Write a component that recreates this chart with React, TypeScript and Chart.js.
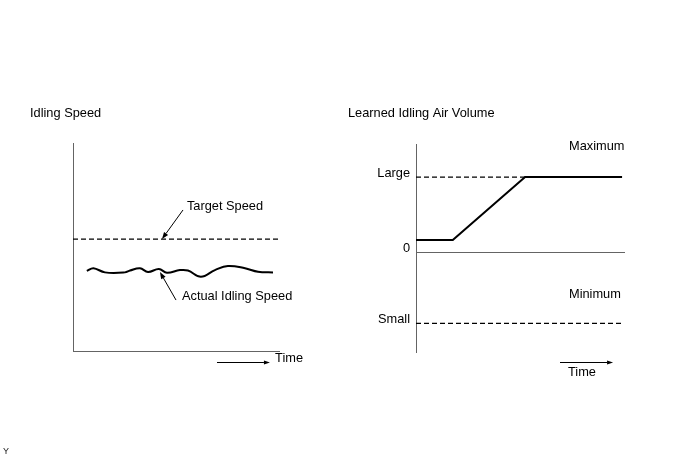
import React, { useEffect, useRef } from "react";
import { Chart, registerables } from "chart.js";

Chart.register(...registerables);

const FONT = "'Liberation Sans', Arial, sans-serif";
const FONT_SIZE = 12.8;
const AXIS_COLOR = "#646464";
const INK = "#000000";

// ---------- Left panel: Idling Speed ----------
const timeRange = [0, 100];
const speedRange = [0, 100];
const targetSpeedX = [0, 100];
const targetSpeedY = [53.8, 53.8];
const actualSpeedX = [6.7, 9.9, 15.5, 25.2, 27.7, 32.5, 36.4, 41.7, 45.6, 51.9, 55.8, 62.1, 68.9, 75.2, 83.5, 89.8, 97.1];
const actualSpeedY = [38.5, 39.8, 37.8, 37.8, 38.7, 39.8, 38.0, 39.4, 37.6, 38.9, 38.7, 35.7, 38.9, 40.9, 39.8, 38.1, 37.8];

// ---------- Right panel: Learned Idling Air Volume ----------
const volumeRange = [-133, 144];
const learnedX = [0, 17.6, 52.2, 98.6];
const learnedY = [16, 16, 100, 100];
const limitX = [0, 98.6];
const maximumY = [100, 100];
const minimumY = [-95, -95];
const volumeTickValues = [100, 0, -95];
const volumeTickLabels = ["Large", "0", "Small"];

const zip = (xs: number[], ys: number[]) => xs.map((x, i) => ({ x, y: ys[i] }));

type P = number | { e: "l" | "r" | "t" | "b"; d: number };

function resolve(chart: any, p: P, axis: "x" | "y") {
  if (typeof p === "number") return chart.scales[axis].getPixelForValue(p);
  const a = chart.chartArea;
  const base = p.e === "l" ? a.left : p.e === "r" ? a.right : p.e === "t" ? a.top : a.bottom;
  return base + p.d;
}

const notesPlugin = {
  id: "notes",
  afterDraw(chart: any) {
    const cfg = chart.options.plugins.notes;
    if (!cfg) return;
    const ctx = chart.ctx as CanvasRenderingContext2D;
    ctx.save();
    ctx.font = `${FONT_SIZE}px ${FONT}`;
    ctx.fillStyle = INK;
    ctx.textBaseline = "middle";
    ctx.textAlign = "left";
    for (const t of cfg.texts || []) {
      ctx.fillText(t.text, resolve(chart, t.x, "x"), resolve(chart, t.y, "y"));
    }
    ctx.strokeStyle = INK;
    ctx.lineWidth = 1;
    for (const a of cfg.arrows || []) {
      const x1 = resolve(chart, a.x1, "x");
      const y1 = resolve(chart, a.y1, "y");
      const x2 = resolve(chart, a.x2, "x");
      const y2 = resolve(chart, a.y2, "y");
      const ang = Math.atan2(y2 - y1, x2 - x1);
      const len = a.head || 7;
      const hw = a.hw || 2.5;
      const bx = x2 - Math.cos(ang) * len;
      const by = y2 - Math.sin(ang) * len;
      ctx.beginPath();
      ctx.moveTo(x1, y1);
      ctx.lineTo(bx, by);
      ctx.stroke();
      ctx.beginPath();
      ctx.moveTo(x2, y2);
      ctx.lineTo(bx + Math.sin(ang) * hw, by - Math.cos(ang) * hw);
      ctx.lineTo(bx - Math.sin(ang) * hw, by + Math.cos(ang) * hw);
      ctx.closePath();
      ctx.fill();
    }
    ctx.restore();
  },
};

const plainAxis = (range: number[], horizontal: boolean) => ({
  type: "linear" as const,
  min: range[0],
  max: range[1],
  grid: { display: false, drawTicks: false },
  ticks: { display: false },
  border: { display: true, color: AXIS_COLOR, width: 1 },
  afterFit: (s: any) => {
    if (horizontal) s.height = 0;
    else s.width = 0;
  },
});

function leftConfig(): any {
  return {
    type: "line",
    data: {
      datasets: [
        {
          data: zip(actualSpeedX, actualSpeedY),
          borderColor: INK,
          borderWidth: 2,
          pointRadius: 0,
          tension: 0.4,
          fill: false,
        },
        {
          data: zip(targetSpeedX, targetSpeedY),
          borderColor: INK,
          borderWidth: 1.3,
          borderDash: [5, 3],
          pointRadius: 0,
          fill: false,
        },
      ],
    },
    options: {
      responsive: false,
      animation: false,
      devicePixelRatio: 1,
      layout: { padding: { left: 73, top: 143, right: 65, bottom: 112 } },
      scales: {
        x: plainAxis(timeRange, true),
        y: plainAxis(speedRange, false),
      },
      plugins: {
        legend: { display: false },
        tooltip: { enabled: false },
        notes: {
          texts: [
            { text: "Idling Speed", x: { e: "l", d: -43 }, y: { e: "t", d: -30 } },
            { text: "Target Speed", x: 55.3, y: 69.7 },
            { text: "Actual Idling Speed", x: 52.9, y: 26.4 },
            { text: "Time", x: 98.1, y: { e: "b", d: 7 } },
          ],
          arrows: [
            { x1: 53.4, y1: 67.8, x2: 43.2, y2: 53.8 },
            { x1: 50.0, y1: 24.5, x2: 42.2, y2: 38.0 },
            { x1: 69.9, y1: { e: "b", d: 11.5 }, x2: 95.6, y2: { e: "b", d: 11.5 }, head: 6, hw: 2 },
          ],
        },
      },
    },
    plugins: [notesPlugin],
  };
}

function rightConfig(): any {
  return {
    type: "line",
    data: {
      datasets: [
        {
          data: zip(learnedX, learnedY),
          borderColor: INK,
          borderWidth: 2,
          pointRadius: 0,
          tension: 0,
          fill: false,
        },
        {
          data: zip(limitX, maximumY),
          borderColor: INK,
          borderWidth: 1.3,
          borderDash: [5, 3],
          pointRadius: 0,
          fill: false,
        },
        {
          data: zip(limitX, minimumY),
          borderColor: INK,
          borderWidth: 1.3,
          borderDash: [5, 3],
          pointRadius: 0,
          fill: false,
        },
      ],
    },
    options: {
      responsive: false,
      animation: false,
      devicePixelRatio: 1,
      layout: { padding: { left: 12, top: 144, right: 63, bottom: 111 } },
      scales: {
        x: { type: "linear", min: 0, max: 100, display: false },
        y: {
          type: "linear",
          min: volumeRange[0],
          max: volumeRange[1],
          afterBuildTicks: (s: any) => {
            s.ticks = volumeTickValues.map((v) => ({ value: v }));
          },
          ticks: {
            display: true,
            padding: 6,
            labelOffset: -4,
            color: INK,
            font: { family: FONT, size: FONT_SIZE },
            callback: (v: number) => {
              const i = volumeTickValues.indexOf(v);
              return i >= 0 ? volumeTickLabels[i] : "";
            },
          },
          grid: {
            display: true,
            drawTicks: false,
            lineWidth: 1,
            color: (c: any) => (c.tick && c.tick.value === 0 ? AXIS_COLOR : "rgba(0,0,0,0)"),
          },
          border: { display: true, color: AXIS_COLOR, width: 1 },
          afterFit: (s: any) => {
            s.width = 60;
          },
        },
      },
      plugins: {
        legend: { display: false },
        tooltip: { enabled: false },
        notes: {
          texts: [
            { text: "Learned Idling Air Volume", x: { e: "l", d: -68 }, y: { e: "t", d: -31 } },
            { text: "Maximum", x: 73.2, y: 141 },
            { text: "Minimum", x: 73.2, y: -56 },
            { text: "Time", x: 72.7, y: { e: "b", d: 20 } },
          ],
          arrows: [
            { x1: 68.9, y1: { e: "b", d: 10.5 }, x2: 94.3, y2: { e: "b", d: 10.5 }, head: 6, hw: 2 },
          ],
        },
      },
    },
    plugins: [notesPlugin],
  };
}

function Panel({ make, left }: { make: () => any; left: number }) {
  const ref = useRef<HTMLCanvasElement>(null);
  useEffect(() => {
    const chart = new Chart(ref.current as HTMLCanvasElement, make());
    return () => chart.destroy();
  }, []);
  return (
    <canvas
      ref={ref}
      width={344}
      height={463}
      style={{ position: "absolute", left, top: 0, width: 344, height: 463 }}
    />
  );
}

export default function App() {
  return (
    <div
      style={{
        position: "fixed",
        left: 0,
        top: 0,
        width: 688,
        height: 463,
        background: "#ffffff",
        overflow: "hidden",
      }}
    >
      <Panel make={leftConfig} left={0} />
      <Panel make={rightConfig} left={344} />
      <div
        style={{
          position: "absolute",
          left: 3,
          top: 447,
          fontFamily: FONT,
          fontSize: 9,
          lineHeight: "9px",
          color: "#222",
        }}
      >
        Y
      </div>
    </div>
  );
}
